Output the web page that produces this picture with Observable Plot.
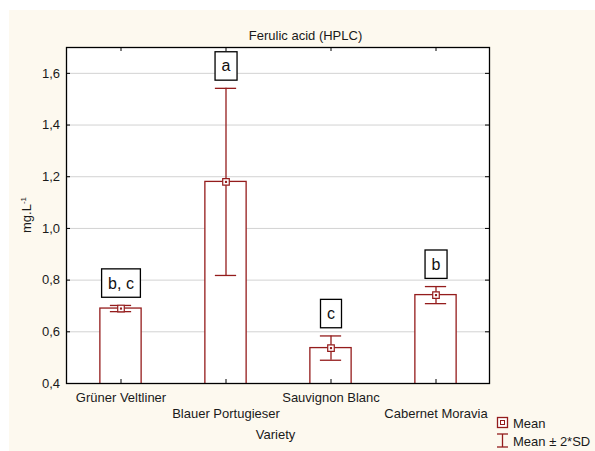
<!DOCTYPE html>
<html><head><meta charset="utf-8">
<script src="https://cdn.jsdelivr.net/npm/d3@7"></script>
<script src="https://cdn.jsdelivr.net/npm/@observablehq/plot@0.6"></script>
<style>
html,body{margin:0;padding:0;background:#fff;}
svg{display:block}
</style></head><body><div id="chart"></div>
<script>
const varieties = ["Grüner Veltliner", "Blauer Portugieser", "Sauvignon Blanc", "Cabernet Moravia"];
const means = [0.69, 1.18, 0.537, 0.742];
const twoSD = [0.012, 0.362, 0.047, 0.033];
const letters = ["b, c", "a", "c", "b"];
const yTicks = [0.4, 0.6, 0.8, 1.0, 1.2, 1.4, 1.6];
const title = "Ferulic acid (HPLC)";
const xLabel = "Variety";
const yLabel = "mg.L";
const yLabelSup = "-1";
const legendLabels = ["Mean", "Mean ± 2*SD"];

const data = varieties.map((v, i) => ({
  variety: v, mean: means[i], lo: means[i] - twoSD[i], hi: means[i] + twoSD[i], letter: letters[i]
}));

const W = 595, H = 451, mL = 66, mR = 106, mT = 47, mB = 68;
const pw = W - mL - mR, ph = H - mT - mB;
const band = pw / varieties.length;
const red = "#941c1c";
const ink = "#1a1a1a";
const font = "'Liberation Sans', Arial, sans-serif";

const chart = Plot.plot({
  width: W, height: H, marginLeft: mL, marginRight: mR, marginTop: mT, marginBottom: mB,
  style: {background: "transparent", fontFamily: font, fontSize: "13px", color: ink},
  x: {type: "band", domain: varieties, padding: 0},
  y: {domain: [0.4, 1.7]},
  marks: [
    Plot.frame({fill: "white", stroke: null}),
    Plot.gridY(yTicks.filter(d => d > 0.4), {stroke: "#d2d2d2", strokeOpacity: 1}),
    Plot.barY(data, {x: "variety", y: "mean", fill: "white", stroke: red, strokeWidth: 1.3,
      insetLeft: (band - 42) / 2, insetRight: (band - 42) / 2, clip: true}),
    Plot.ruleX(data, {x: "variety", y1: "lo", y2: "hi", stroke: red, strokeWidth: 1.3}),
    Plot.tickY(data, {x: "variety", y: "hi", stroke: red, strokeWidth: 1.3,
      insetLeft: (band - 22) / 2, insetRight: (band - 22) / 2}),
    Plot.tickY(data, {x: "variety", y: "lo", stroke: red, strokeWidth: 1.3,
      insetLeft: (band - 22) / 2, insetRight: (band - 22) / 2}),
    Plot.dot(data, {x: "variety", y: "mean", symbol: "square", r: 3.7, fill: "white", stroke: red, strokeWidth: 1.2}),
    Plot.dot(data, {x: "variety", y: "mean", symbol: "square", r: 1.2, fill: red}),
    Plot.text(data, {x: "variety", y: "hi", text: "letter", dy: -22, fontSize: 16, fill: "#111"}),
    Plot.axisY({ticks: yTicks, tickSize: 0, tickPadding: 6.5, tickFormat: d => d.toFixed(1).replace(".", ","), label: null, fontSize: 13, fill: ink}),
    Plot.axisX({ticks: [varieties[0], varieties[2]], tickSize: 0, tickPadding: 8.8, label: null, fontSize: 13, fill: ink}),
    Plot.axisX({ticks: [varieties[1], varieties[3]], tickSize: 0, tickPadding: 25.3, label: null, fontSize: 13, fill: ink}),
    Plot.tickX(varieties, {x: d => d, insetTop: ph - 4, stroke: "#000"}),
    Plot.tickX(varieties, {x: d => d, insetBottom: ph - 4, stroke: "#000"}),
    Plot.tickY(yTicks, {y: d => d, insetLeft: pw - 4, stroke: "#000"}),
    Plot.tickY(yTicks, {y: d => d, insetRight: pw - 4, stroke: "#000"}),
    Plot.frame({stroke: "#000", strokeWidth: 1.3}),
    Plot.text([title], {text: d => d, frameAnchor: "top", dy: -17.2, dx: 27.5, fontSize: 13, fill: ink}),
    Plot.text([xLabel], {text: d => d, frameAnchor: "bottom", dy: 55.8, dx: -2.5, fontSize: 13, fill: ink})
  ]
});

document.getElementById("chart").appendChild(chart);
const svg = d3.select(chart);
// cream page background
svg.insert("rect", ":first-child")
  .attr("x", 9).attr("y", 10).attr("width", W - 9).attr("height", H - 10).attr("fill", "#fdf9ef");

// boxes around group letters
svg.selectAll('text').filter(function () {
  return this.childElementCount === 0 && letters.includes(this.textContent) &&
    this.parentNode.getAttribute("aria-label") === "text";
}).each(function () {
  const b = this.getBBox();
  const r = document.createElementNS("http://www.w3.org/2000/svg", "rect");
  r.setAttribute("x", b.x - 6.5);
  r.setAttribute("y", b.y + b.height / 2 - 14.2);
  r.setAttribute("width", b.width + 13);
  r.setAttribute("height", 28.4);
  r.setAttribute("fill", "white");
  r.setAttribute("stroke", "#000");
  r.setAttribute("stroke-width", 1.3);
  const t = this.getAttribute("transform");
  if (t) r.setAttribute("transform", t);
  this.parentNode.insertBefore(r, this);
});

// y-axis label with superscript
const yl = svg.append("text")
  .attr("transform", "translate(31,215) rotate(-90)")
  .attr("text-anchor", "middle").attr("font-size", 13).attr("fill", ink);
yl.append("tspan").text(yLabel);
yl.append("tspan").attr("font-size", 8).attr("dy", -5).text(yLabelSup);

// legend
const lg = svg.append("g").attr("text-anchor", "start");
lg.append("rect").attr("x", 497.5).attr("y", 417.5).attr("width", 10).attr("height", 10)
  .attr("fill", "white").attr("stroke", red).attr("stroke-width", 1.3);
lg.append("rect").attr("x", 500.5).attr("y", 420.5).attr("width", 4).attr("height", 4)
  .attr("fill", "none").attr("stroke", red).attr("stroke-width", 1);
[[497, 508, 434, 434], [502.5, 502.5, 434, 447], [497, 508, 447, 447]].forEach(([x1, x2, y1, y2]) =>
  lg.append("line").attr("x1", x1).attr("x2", x2).attr("y1", y1).attr("y2", y2)
    .attr("stroke", red).attr("stroke-width", 1.3));
lg.append("text").attr("x", 513).attr("y", 427.5).attr("font-size", 13).attr("fill", ink).attr("text-anchor", "start").text(legendLabels[0]);
lg.append("text").attr("x", 513).attr("y", 445.5).attr("font-size", 13).attr("fill", ink).attr("text-anchor", "start").text(legendLabels[1]);
</script>
</body></html>
